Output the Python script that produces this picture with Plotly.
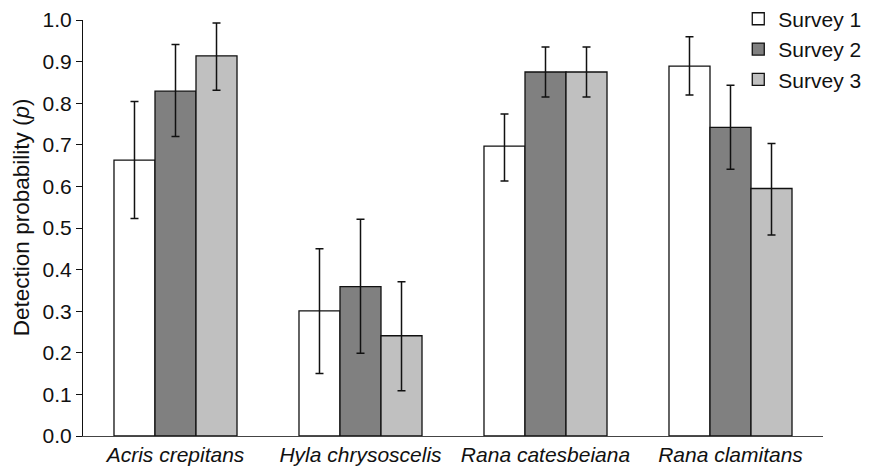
import plotly.graph_objects as go

species = ["Acris crepitans", "Hyla chrysoscelis", "Rana catesbeiana", "Rana clamitans"]
surveys = ["Survey 1", "Survey 2", "Survey 3"]

survey1 = [0.663, 0.301, 0.697, 0.889]
survey1_hi = [0.804, 0.450, 0.774, 0.960]
survey1_lo = [0.523, 0.150, 0.613, 0.820]

survey2 = [0.829, 0.359, 0.875, 0.742]
survey2_hi = [0.941, 0.521, 0.935, 0.843]
survey2_lo = [0.720, 0.199, 0.815, 0.641]

survey3 = [0.914, 0.241, 0.875, 0.595]
survey3_hi = [0.993, 0.371, 0.935, 0.703]
survey3_lo = [0.831, 0.109, 0.815, 0.483]

colors = ["#ffffff", "#808080", "#c0c0c0"]
ticklabels = [f"<i>{s}</i>" for s in species]
y_title = "Detection probability (<i>p</i>)"

fig = go.Figure()
for i, (name, vals, hi, lo) in enumerate([
    (surveys[0], survey1, survey1_hi, survey1_lo),
    (surveys[1], survey2, survey2_hi, survey2_lo),
    (surveys[2], survey3, survey3_hi, survey3_lo),
]):
    fig.add_trace(go.Bar(
        x=species, y=vals, name=name,
        legendgroup=name,
        marker=dict(color=colors[i], line=dict(color="#111111", width=1.3)),
        error_y=dict(type="data", symmetric=False,
                     array=[h - v for h, v in zip(hi, vals)],
                     arrayminus=[v - l for v, l in zip(vals, lo)],
                     color="#111111", thickness=1.5, width=4),
    ))

fig.update_layout(
    width=861, height=465,
    margin=dict(l=75, r=46, t=12, b=37, autoexpand=False),
    paper_bgcolor="white", plot_bgcolor="white",
    font=dict(family="Liberation Sans, Arial, sans-serif", size=21, color="#111111"),
    barmode="group", bargap=0.335, bargroupgap=0,
    showlegend=True,
    legend=dict(x=0.8855, y=1.0514, xanchor="left", yanchor="top",
                bgcolor="rgba(0,0,0,0)", tracegroupgap=0,
                font=dict(size=21)),
    xaxis=dict(
        tickmode="array", tickvals=species, ticktext=ticklabels,
        showline=True, linecolor="#444444", linewidth=1,
        ticks="", showgrid=False, zeroline=False,
        range=[-0.5, 3.5], automargin=False,
    ),
    yaxis=dict(
        range=[0, 1], dtick=0.1, tickformat=".1f",
        showline=True, linecolor="#111111", linewidth=1,
        ticks="outside", ticklen=6, tickcolor="#111111",
        showgrid=False, zeroline=False, automargin=False,
        ticklabeloverflow="allow",
    ),
    annotations=[dict(
        text=y_title, textangle=-90, showarrow=False,
        xref="paper", yref="paper", x=-0.0838, y=0.526,
        xanchor="center", yanchor="middle",
        font=dict(size=22.5),
    )],
)

fig.write_html("out.html")
